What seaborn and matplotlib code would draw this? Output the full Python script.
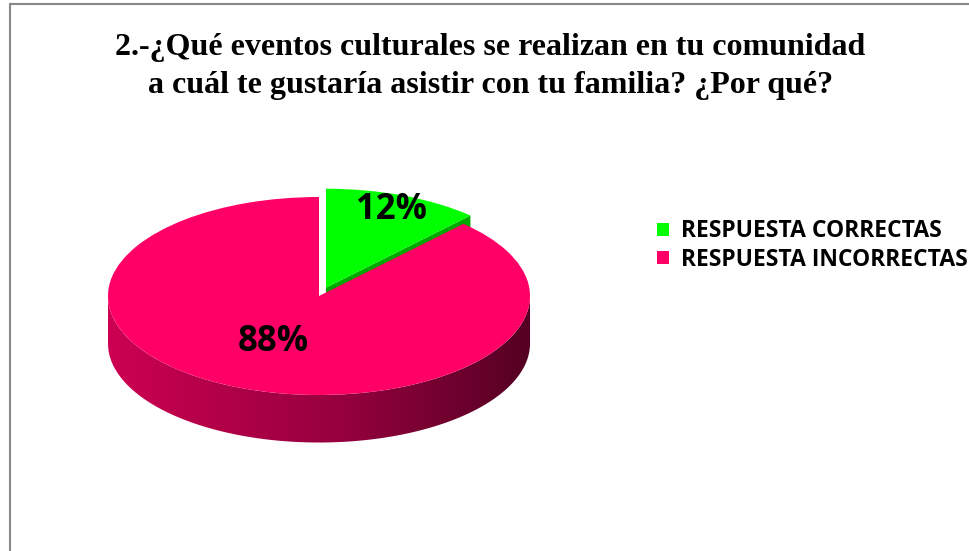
import numpy as np
import matplotlib
matplotlib.use("Agg")
from matplotlib import pyplot as plt
from matplotlib.patches import Polygon
from matplotlib.lines import Line2D
import seaborn as sns

title = "2.-¿Qué eventos culturales se realizan en tu comunidad\na cuál te gustaría asistir con tu familia? ¿Por qué?"
categories = ["RESPUESTA CORRECTAS", "RESPUESTA INCORRECTAS"]
values = [12, 88]
colors = ["#00FF00", "#FF0066"]

sns.set_theme(style="white")
plt.rcParams["font.family"] = ["Open Sans", "DejaVu Sans"]
plt.rcParams["text.color"] = "black"

W, H = 969, 551
fig = plt.figure(figsize=(W / 100, H / 100), dpi=100)
ax = fig.add_axes([0, 0, 1, 1])

# pixel geometry of the tilted pie
cx, cy, rx, ry, depth = 319, 296, 211, 99, 0.48
expl = 0.09

wedges, texts, autotexts = ax.pie(
    values, colors=colors, startangle=90, counterclock=False,
    explode=[expl, 0], autopct="%1.0f%%", pctdistance=0.84,
    wedgeprops=dict(linewidth=0, zorder=5),
    textprops=dict(fontsize=25, fontweight="bold", color="black", zorder=10),
)
ax.set_aspect("auto")
ax.axis("off")

# move the big label nearer the middle of its wedge
x, y = autotexts[1].get_position()
autotexts[1].set_position((x * 0.70, y * 0.60))

# green cut face (exploded slice)
g = wedges[0]
a2 = np.deg2rad(g.theta1)
mid = np.deg2rad((g.theta1 + g.theta2) / 2)
ox, oy = expl * np.cos(mid), expl * np.sin(mid)
face = [(ox, oy), (ox + np.cos(a2), oy + np.sin(a2)),
        (ox + np.cos(a2), oy + np.sin(a2) - depth), (ox, oy - depth)]
ax.add_patch(Polygon(face, closed=True, facecolor="#00A800", edgecolor="none", zorder=3))

# pink front side with gradient
t = np.linspace(np.pi, 2 * np.pi, 200)
top = np.column_stack([np.cos(t), np.sin(t)])
bot = np.column_stack([np.cos(t[::-1]), np.sin(t[::-1]) - depth])
side = Polygon(np.vstack([top, bot]), closed=True, facecolor="none", edgecolor="none")
ax.add_patch(side)
grad = np.linspace(0, 1, 256)
c0 = np.array([205, 0, 82]) / 255
c1 = np.array([150, 0, 62]) / 255
c2 = np.array([85, 0, 35]) / 255
img = np.zeros((2, 256, 3))
for i, v in enumerate(grad):
    if v < 0.55:
        img[:, i] = c0 + (c1 - c0) * v / 0.55
    else:
        img[:, i] = c1 + (c2 - c1) * (v - 0.55) / 0.45
im = ax.imshow(img, extent=(-1, 1, -1 - depth, 0), aspect="auto", zorder=4,
               interpolation="bilinear")
im.set_clip_path(side)
ax.set_xlim(-cx / rx, (W - cx) / rx)
ax.set_ylim((cy - H) / ry, cy / ry)

fig.text(0.506, 1 - 33 / H, title, ha="center", va="top", fontsize=23,
         fontweight="bold", family=["Liberation Serif", "DejaVu Serif"],
         color="black", linespacing=1.4)

fig.legend(wedges, categories, loc="upper left", bbox_to_anchor=(648 / W, 1 - 210 / H),
           frameon=False, prop=dict(family="Open Sans", weight="bold", size=16.5),
           handlelength=0.5, handleheight=0.5, handletextpad=0.55, labelspacing=0.2,
           borderaxespad=0, labelcolor="black")

fig.add_artist(Line2D([10 / W, 1], [1 - 4 / H, 1 - 4 / H], color="#888888", lw=1.5))
fig.add_artist(Line2D([10 / W, 10 / W], [0, 1 - 4 / H], color="#888888", lw=1.5))

fig.savefig("out.png", dpi=100, facecolor="white")
